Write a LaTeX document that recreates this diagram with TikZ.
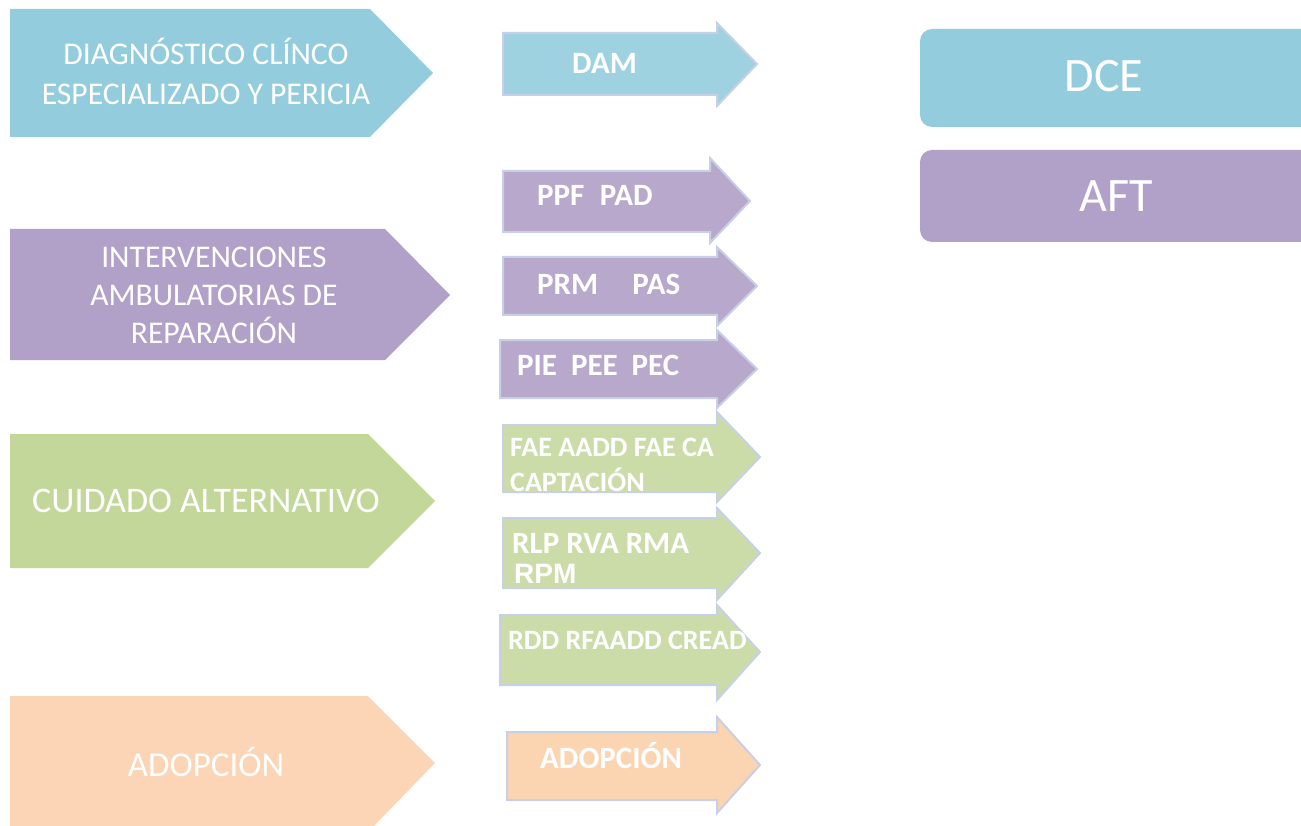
\documentclass[tikz,border=0pt]{standalone}
\usepackage{fontspec}
\setmainfont{Carlito}
\newfontfamily\arialfont{Liberation Sans}
\definecolor{bigblue}{HTML}{93CDDD}
\definecolor{bigpurple}{HTML}{B1A0C7}
\definecolor{biggreen}{HTML}{C4D79B}
\definecolor{bigorange}{HTML}{FBD5B5}
\definecolor{smblue}{HTML}{9ED2E0}
\definecolor{smpurple}{HTML}{B8A9CC}
\definecolor{smgreen}{HTML}{CCDCA9}
\definecolor{smorange}{HTML}{FBD4B2}
\definecolor{arrowedge}{HTML}{C8D0E6}
\tikzset{
  smarrow/.style={draw=arrowedge, line width=2pt, line join=miter},
  bigtext/.style={text=white, inner sep=0pt, align=center, font=\fontsize{31.6}{40}\selectfont},
  smtext/.style={text=white, inner sep=0pt, anchor=base west, font=\fontsize{31}{35}\selectfont\bfseries},
  smtextnarrow/.style={smtext, font=\fontsize{28}{35}\selectfont\bfseries},
  boxtext/.style={text=white, inner sep=0pt, font=\fontsize{48}{56}\selectfont},
  rbox/.style={rounded corners=12pt, draw=none}
}
\begin{document}
\begin{tikzpicture}[x=1pt,y=-1pt]
\useasboundingbox (0,0) rectangle (1301,826);
\clip (0,0) rectangle (1301,826);
% big chevrons
\fill[bigblue] (10,9) -- (370,9) -- (433,73) -- (370,137) -- (10,137) -- cycle;
\fill[bigpurple] (10,229) -- (385,229) -- (450,295) -- (385,360) -- (10,360) -- cycle;
\fill[biggreen] (10,434) -- (368,434) -- (435,501) -- (368,568) -- (10,568) -- cycle;
\fill[bigorange] (10,696) -- (368,696) -- (435,763) -- (370,830) -- (10,830) -- cycle;
\node[bigtext] (diag) at (206,71) {DIAGNÓSTICO CLÍNCO\\ESPECIALIZADO Y PERICIA};
\node[bigtext, font=\fontsize{31.6}{38}\selectfont] (inter) at (214,295) {INTERVENCIONES\\AMBULATORIAS DE\\REPARACIÓN};
\node[bigtext, font=\fontsize{36}{40}\selectfont] (cuid) at (206,501) {CUIDADO ALTERNATIVO};
\node[bigtext, font=\fontsize{35}{40}\selectfont] (adop) at (206,762) {ADOPCIÓN};
% small arrows
\path[smarrow, fill=smblue] (503,33) -- (717,33) -- (717,23) -- (757,64) -- (717,106) -- (717,95) -- (503,95) -- cycle;
\path[smarrow, fill=smpurple] (503,171) -- (710,171) -- (710,158) -- (750,201) -- (710,243) -- (710,232) -- (503,232) -- cycle;
\path[smarrow, fill=smpurple] (503,257) -- (717,257) -- (717,247) -- (757,286) -- (717,326) -- (717,315) -- (503,315) -- cycle;
\path[smarrow, fill=smpurple] (500,340) -- (717,340) -- (717,330) -- (757,369) -- (717,408) -- (717,398) -- (500,398) -- cycle;
\path[smarrow, fill=smgreen] (503,425) -- (717,425) -- (717,412) -- (760,457) -- (717,502) -- (717,492) -- (503,492) -- cycle;
\path[smarrow, fill=smgreen] (503,518) -- (717,518) -- (717,508) -- (760,553) -- (717,600) -- (717,588) -- (503,588) -- cycle;
\path[smarrow, fill=smgreen] (500,615) -- (717,615) -- (717,605) -- (760,652) -- (717,700) -- (717,685) -- (500,685) -- cycle;
\path[smarrow, fill=smorange] (507,732) -- (717,732) -- (717,717) -- (760,765) -- (717,813) -- (717,800) -- (507,800) -- cycle;
\node[smtext] (dam) at (572,74) {DAM};
\node[smtext] (ppf) at (537,206) {PPF\hspace{0.5em}PAD};
\node[smtext] (prm) at (537,295) {PRM\hspace{1.1em}PAS};
\node[smtext] (pie) at (517,375) {PIE\hspace{0.45em}PEE\hspace{0.45em}PEC};
\node[smtextnarrow] (fae) at (510,456) {FAE AADD FAE CA};
\begin{scope}
\clip (490,420) rectangle (720,491);
\node[smtextnarrow] (capt) at (510,491) {CAPTACIÓN};
\end{scope}
\node[smtext] (rlp) at (512,553) {RLP RVA RMA};
\node[smtext, font=\arialfont\fontsize{28}{30}\selectfont\bfseries] (rpm) at (514,583) {RPM};
\node[smtextnarrow] (rdd) at (508,649) {RDD RFAADD CREAD};
\node[smtext] (sadop) at (540,768) {ADOPCIÓN};
% right boxes
\path[rbox, fill=bigblue] (920,29) rectangle (1320,127);
\path[rbox, fill=bigpurple] (920,150) rectangle (1320,242);
\node[boxtext] (dce) at (1104,76) {DCE};
\node[boxtext] (aft) at (1116,196) {AFT};
\end{tikzpicture}
\end{document}
